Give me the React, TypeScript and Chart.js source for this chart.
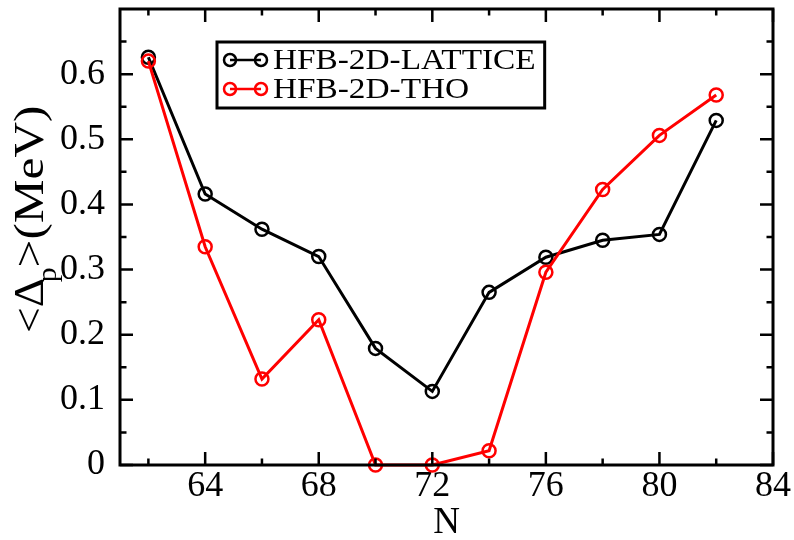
import React, { useEffect, useRef } from 'react';
import { Chart, registerables } from 'chart.js';

Chart.register(...registerables);

const neutronNumbers = [62, 64, 66, 68, 70, 72, 74, 76, 78, 80, 82];
const latticeGap = [0.626, 0.416, 0.362, 0.320, 0.179, 0.113, 0.265, 0.319, 0.345, 0.354, 0.529];
const thoGap = [0.620, 0.335, 0.132, 0.223, 0.0, 0.0, 0.022, 0.296, 0.423, 0.506, 0.568];
const seriesLabels = ['HFB-2D-LATTICE', 'HFB-2D-THO'];
const seriesColors = ['#000000', '#ff0000'];
const xMajorTicks = [64, 68, 72, 76, 80, 84];
const xMinorTicks = [62, 66, 70, 74, 78, 82];
const yMajorTicks = [0, 0.1, 0.2, 0.3, 0.4, 0.5, 0.6];
const yMinorTicks = [0.05, 0.15, 0.25, 0.35, 0.45, 0.55, 0.65];
const xRange = [61, 84];
const yRange = [0, 0.7];
const xTitle = 'N';

const SERIF = "'Liberation Serif', 'Times New Roman', serif";

const decorPlugin = {
  id: 'decor',
  afterDraw(chart: any) {
    const { ctx, chartArea: a, scales } = chart;
    const xs = scales.x;
    const ys = scales.y;
    ctx.save();
    ctx.strokeStyle = '#000';
    ctx.lineWidth = 2.5;
    ctx.lineCap = 'butt';
    const major = 13;
    const minor = 6.5;
    const drawX = (v: number, len: number) => {
      const px = xs.getPixelForValue(v);
      ctx.beginPath();
      ctx.moveTo(px, a.bottom);
      ctx.lineTo(px, a.bottom - len);
      ctx.moveTo(px, a.top);
      ctx.lineTo(px, a.top + len);
      ctx.stroke();
    };
    const drawY = (v: number, len: number) => {
      const py = ys.getPixelForValue(v);
      ctx.beginPath();
      ctx.moveTo(a.left, py);
      ctx.lineTo(a.left + len, py);
      ctx.moveTo(a.right, py);
      ctx.lineTo(a.right - len, py);
      ctx.stroke();
    };
    xMajorTicks.forEach((v) => drawX(v, major));
    xMinorTicks.forEach((v) => drawX(v, minor));
    yMajorTicks.forEach((v) => drawY(v, major));
    yMinorTicks.forEach((v) => drawY(v, minor));
    ctx.lineWidth = 3;
    ctx.strokeRect(a.left, a.top, a.right - a.left, a.bottom - a.top);

    // legend
    const legFont = 30;
    const legStretch = 1.11;
    ctx.font = `${legFont}px ${SERIF}`;
    const textX = 273;
    const rowsY = [69, 98];
    let maxW = 0;
    seriesLabels.forEach((l) => (maxW = Math.max(maxW, ctx.measureText(l).width * legStretch)));
    const boxL = 217;
    const boxT = 42;
    const boxR = textX + maxW + 9;
    const boxB = 108;
    ctx.lineWidth = 3;
    ctx.strokeStyle = '#000';
    ctx.strokeRect(boxL, boxT, boxR - boxL, boxB - boxT);
    seriesLabels.forEach((l, i) => {
      const ds = chart.data.datasets[i];
      const cy = rowsY[i] - 9;
      ctx.strokeStyle = ds.borderColor;
      ctx.lineWidth = 2.5;
      ctx.beginPath();
      ctx.moveTo(230, cy);
      ctx.lineTo(261, cy);
      ctx.stroke();
      [230, 261].forEach((cx) => {
        ctx.beginPath();
        ctx.arc(cx, cy, 6, 0, Math.PI * 2);
        ctx.stroke();
      });
      ctx.save();
      ctx.fillStyle = '#000';
      ctx.textBaseline = 'alphabetic';
      ctx.textAlign = 'left';
      ctx.translate(textX, rowsY[i]);
      ctx.scale(legStretch, 1);
      ctx.fillText(l, 0, 0);
      ctx.restore();
    });

    // y title with subscript
    const mainSize = 43;
    const subSize = 28;
    ctx.translate(43, 333);
    ctx.rotate(-Math.PI / 2);
    ctx.scale(1.06, 1);
    ctx.fillStyle = '#000';
    ctx.textBaseline = 'alphabetic';
    ctx.textAlign = 'left';
    let x = 0;
    ctx.font = `${mainSize}px ${SERIF}`;
    ctx.fillText('<Δ', x, 0);
    x += ctx.measureText('<Δ').width - 4;
    ctx.font = `${subSize}px ${SERIF}`;
    ctx.fillText('p', x, 13);
    x += ctx.measureText('p').width;
    ctx.font = `${mainSize}px ${SERIF}`;
    ctx.translate(x, 0);
    ctx.scale(1.08, 1);
    ctx.fillText('>(MeV)', 0, 0);
    ctx.restore();
  },
};

export default function App() {
  const ref = useRef<HTMLCanvasElement | null>(null);
  useEffect(() => {
    if (!ref.current) return;
    const mk = (i: number, vals: number[], order: number) => ({
      label: seriesLabels[i],
      data: neutronNumbers.map((n, k) => ({ x: n, y: vals[k] })),
      borderColor: seriesColors[i],
      backgroundColor: 'rgba(0,0,0,0)',
      borderWidth: 3,
      pointRadius: 6.5,
      pointBorderWidth: 2.5,
      pointBackgroundColor: 'rgba(0,0,0,0)',
      pointBorderColor: seriesColors[i],
      pointHoverRadius: 6.5,
      tension: 0,
      clip: false as any,
      order,
    });
    const chart = new Chart(ref.current, {
      type: 'line',
      data: {
        datasets: [mk(0, latticeGap, 1), mk(1, thoGap, 0)],
      },
      options: {
        animation: false,
        responsive: false,
        maintainAspectRatio: false,
        layout: { padding: { top: 9, right: 21, left: 0, bottom: 0 } },
        plugins: { legend: { display: false }, tooltip: { enabled: false } },
        scales: {
          x: {
            type: 'linear',
            min: xRange[0],
            max: xRange[1],
            grid: { display: false },
            border: { display: false },
            afterBuildTicks: (s: any) => {
              s.ticks = xMajorTicks.map((v) => ({ value: v }));
            },
            afterFit: (s: any) => {
              s.height = 75;
              s.paddingLeft = 0;
              s.paddingRight = 0;
            },
            ticks: {
              color: '#000',
              font: { family: SERIF, size: 36 },
              padding: -8,
              maxRotation: 0,
              autoSkip: false,
              callback: (v: any) => String(v),
            },
            title: {
              display: true,
              text: xTitle,
              color: '#000',
              font: { family: SERIF, size: 37, lineHeight: 1.0 },
              padding: { top: 0, bottom: -2 },
            },
          },
          y: {
            type: 'linear',
            min: yRange[0],
            max: yRange[1],
            grid: { display: false },
            border: { display: false },
            afterBuildTicks: (s: any) => {
              s.ticks = yMajorTicks.map((v) => ({ value: v }));
            },
            afterFit: (s: any) => {
              s.width = 120;
              s.paddingTop = 0;
              s.paddingBottom = 0;
            },
            ticks: {
              color: '#000',
              font: { family: SERIF, size: 36 },
              padding: 7,
              autoSkip: false,
              callback: (v: any) => (Number(v) === 0 ? '0' : Number(v).toFixed(1)),
            },
          },
        },
      },
      plugins: [decorPlugin],
    });
    return () => chart.destroy();
  }, []);
  return (
    <div style={{ position: 'fixed', left: 0, top: 0, width: 794, height: 540, background: '#fff' }}>
      <canvas ref={ref} width={794} height={540} style={{ width: 794, height: 540, display: 'block' }} />
    </div>
  );
}
